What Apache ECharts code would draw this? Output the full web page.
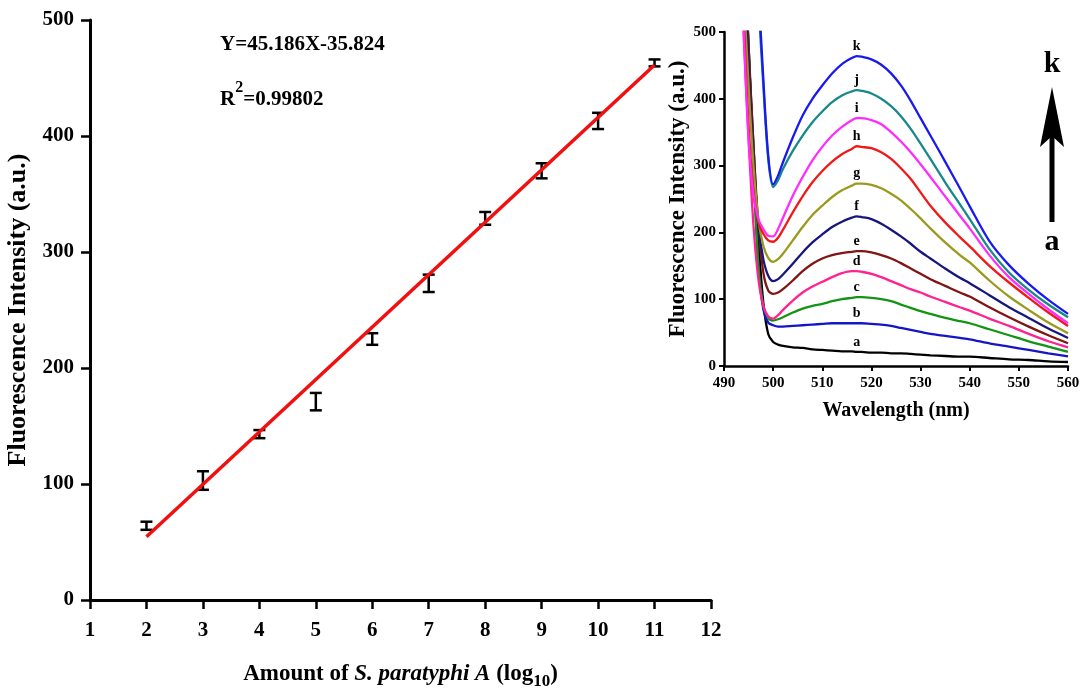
<!DOCTYPE html>
<html>
<head>
<meta charset="utf-8">
<script src="https://cdn.jsdelivr.net/npm/echarts@6/dist/echarts.min.js"></script>
<style>
  html, body { margin: 0; padding: 0; background: #fff; }
  #main { width: 1081px; height: 694px; }
</style>
</head>
<body>
<div id="main"></div>
<script>
// calibration plot: log10 amount vs intensity
const amounts = [2, 3, 4, 5, 6, 7, 8, 9, 10, 11];
const meanIntensity = [64, 103, 143, 171, 225, 273, 329, 370, 413, 463];
const errIntensity = [3.5, 8, 3.5, 7.5, 5, 7.5, 5.5, 6.5, 7, 3];
// fitted line Y=45.186X-35.824 end points
const fitLine = [[2, 54.55], [11, 461.22]];

// inset spectra
const wavelengths = [493, 494, 495, 496, 497, 498, 499, 500, 501, 502, 504, 506, 508, 510, 512, 514, 516, 517, 518, 520, 522, 524, 526, 528, 530, 532, 535, 538, 540, 544, 548, 552, 556, 560];
const curveNames = ['a', 'b', 'c', 'd', 'e', 'f', 'g', 'h', 'i', 'j', 'k'];
const curveColors = ['#000000', '#1515c8', '#149414', '#ff2290', '#821414', '#16167e', '#9a9a1e', '#f01818', '#ff2cff', '#17898a', '#1a1aee'];
const spectra = [
  [750, 620, 470, 330, 190, 95, 48, 36, 32, 30, 28, 27, 25, 24, 23, 22, 22, 21, 21, 20, 20, 19, 19, 18, 17, 16, 15, 14, 14, 12, 10, 9, 7, 6],
  [800, 650, 480, 300, 150, 85, 65, 61, 59, 59, 60, 61, 62, 63, 64, 64, 64, 64, 64, 63, 62, 60, 57, 54, 51, 48, 45, 42, 40, 34, 29, 24, 19, 14.5],
  [800, 650, 480, 300, 150, 90, 72, 68, 70, 73, 80, 86, 90, 93, 97, 100, 102, 103, 103, 102, 100, 97, 92, 87, 82, 78, 72, 67, 64, 55, 46, 37, 29, 21],
  [700, 500, 340, 210, 130, 90, 74, 71, 76, 84, 98, 110, 119, 126, 133, 139, 142, 142, 141, 138, 133, 127, 121, 115, 110, 104, 96, 88, 83, 71, 60, 48, 37, 28],
  [750, 620, 480, 330, 210, 140, 113, 108, 110, 115, 128, 142, 153, 161, 166, 169, 171, 172, 172, 170, 166, 161, 154, 146, 138, 130, 120, 110, 104, 88, 73, 59, 46, 34],
  [750, 600, 450, 310, 210, 160, 135, 127, 130, 137, 153, 170, 185, 197, 208, 216, 222, 224, 223, 220, 213, 204, 194, 183, 171, 161, 146, 132, 124, 106, 88, 72, 56, 42],
  [700, 560, 420, 300, 220, 180, 162, 156, 160, 168, 188, 208, 226, 240, 253, 263, 270, 273, 273, 271, 266, 258, 248, 235, 221, 206, 185, 166, 155, 128, 104, 84, 65, 49],
  [650, 520, 360, 260, 215, 198, 188, 186, 192, 204, 230, 254, 275, 292, 306, 317, 325, 329, 328, 326, 320, 310, 296, 280, 260, 240, 215, 193, 179, 150, 125, 102, 80, 60],
  [700, 500, 340, 255, 220, 205, 195, 194, 205, 222, 255, 283, 308, 328, 345, 358, 368, 371, 371, 368, 362, 350, 336, 320, 302, 283, 254, 225, 206, 166, 133, 108, 85, 64],
  [1100, 1000, 880, 750, 550, 420, 310, 268, 278, 295, 322, 345, 365, 381, 395, 405, 411, 413, 412, 408, 400, 389, 374, 355, 333, 310, 275, 242, 220, 175, 140, 114, 92, 73],
  [1100, 1000, 880, 760, 570, 430, 315, 272, 285, 305, 342, 375, 400, 420, 438, 452, 461, 464, 463, 459, 451, 438, 420, 397, 371, 345, 306, 266, 239, 187, 151, 123, 99, 78]
];
const labelAt = 517;

const FONT = 'Liberation Serif';

const chart = echarts.init(document.getElementById('main'));

const axisLabelMain = { color: '#000', fontFamily: FONT, fontWeight: 'bold', fontSize: 21 };
const axisLabelInset = { color: '#000', fontFamily: FONT, fontWeight: 'bold', fontSize: 15 };

const spectraSeries = spectra.map((vals, i) => ({
  type: 'line',
  xAxisIndex: 1,
  yAxisIndex: 1,
  symbol: 'circle',
  symbolSize: 0,
  showSymbol: true,
  smooth: 0.3,
  lineStyle: { color: curveColors[i], width: 2.3 },
  itemStyle: { color: curveColors[i] },
  z: 2 + i,
  data: wavelengths.map((w, j) => {
    if (w === labelAt) {
      return {
        value: [w, vals[j]],
        label: {
          show: true, position: 'top', distance: 3, formatter: curveNames[i],
          color: '#000', fontFamily: FONT, fontWeight: 'bold', fontSize: 14
        }
      };
    }
    return [w, vals[j]];
  })
}));

chart.setOption({
  animation: false,
  grid: [
    { left: 90, right: 370, top: 20, bottom: 94, outerBoundsMode: 'none' },
    { left: 724, right: 13, top: 32, bottom: 328, outerBoundsMode: 'none' }
  ],
  xAxis: [
    {
      gridIndex: 0, type: 'value', min: 1, max: 12, interval: 1,
      axisLine: { lineStyle: { color: '#000', width: 3 } },
      axisTick: { length: 9, lineStyle: { color: '#000', width: 2.5 } },
      splitLine: { show: false },
      axisLabel: Object.assign({ margin: 20 }, axisLabelMain),
      name: '{b|Amount of }{i|S. paratyphi A}{b| (log}{s|10}{b|)}',
      nameLocation: 'middle', nameGap: 58,
      nameTextStyle: {
        rich: {
          b: { fontFamily: FONT, fontWeight: 'bold', fontSize: 23, color: '#000', lineHeight: 32 },
          i: { fontFamily: FONT, fontWeight: 'bold', fontStyle: 'italic', fontSize: 23, color: '#000', lineHeight: 32 },
          s: { fontFamily: FONT, fontWeight: 'bold', fontSize: 17, color: '#000', lineHeight: 17, verticalAlign: 'bottom' }
        }
      }
    },
    {
      gridIndex: 1, type: 'value', min: 490, max: 560, interval: 10,
      axisLine: { lineStyle: { color: '#000', width: 2.5 } },
      axisTick: { length: 5, lineStyle: { color: '#000', width: 2 } },
      splitLine: { show: false },
      axisLabel: Object.assign({ margin: 10 }, axisLabelInset),
      name: 'Wavelength (nm)', nameLocation: 'middle', nameGap: 35,
      nameTextStyle: { fontFamily: FONT, fontWeight: 'bold', fontSize: 20, color: '#000' }
    }
  ],
  yAxis: [
    {
      gridIndex: 0, type: 'value', min: 0, max: 500, interval: 100,
      axisLine: { show: true, lineStyle: { color: '#000', width: 3 } },
      axisTick: { show: true, length: 9, lineStyle: { color: '#000', width: 2.5 } },
      splitLine: { show: false },
      axisLabel: Object.assign({ margin: 16 }, axisLabelMain),
      name: 'Fluorescence Intensity (a.u.)', nameLocation: 'middle', nameGap: 56,
      nameTextStyle: { fontFamily: FONT, fontWeight: 'bold', fontSize: 26, color: '#000' }
    },
    {
      gridIndex: 1, type: 'value', min: 0, max: 500, interval: 100,
      axisLine: { show: true, lineStyle: { color: '#000', width: 2.5 } },
      axisTick: { show: true, length: 5, lineStyle: { color: '#000', width: 2 } },
      splitLine: { show: false },
      axisLabel: Object.assign({ margin: 8 }, axisLabelInset),
      name: 'Fluorescence Intensity (a.u.)', nameLocation: 'middle', nameGap: 33,
      nameTextStyle: { fontFamily: FONT, fontWeight: 'bold', fontSize: 23, color: '#000' }
    }
  ],
  graphic: [
    {
      type: 'text', left: 220, top: 34,
      style: { text: 'Y=45.186X-35.824', fill: '#000', font: 'bold 21px "Liberation Serif"' }
    },
    {
      type: 'text', left: 220, top: 80,
      style: {
        text: '{t|R}{p|2}{t|=0.99802}',
        rich: {
          t: { fontFamily: FONT, fontWeight: 'bold', fontSize: 21, fill: '#000', lineHeight: 30, verticalAlign: 'bottom' },
          p: { fontFamily: FONT, fontWeight: 'bold', fontSize: 16, fill: '#000', lineHeight: 16, verticalAlign: 'top' }
        }
      }
    },
    {
      type: 'text', x: 1052, y: 64,
      style: { text: 'k', fill: '#000', font: 'bold 30px "Liberation Serif"', align: 'center', verticalAlign: 'middle' }
    },
    {
      type: 'text', x: 1052, y: 242,
      style: { text: 'a', fill: '#000', font: 'bold 30px "Liberation Serif"', align: 'center', verticalAlign: 'middle' }
    },
    {
      type: 'line',
      shape: { x1: 1052, y1: 222, x2: 1052, y2: 130 },
      style: { stroke: '#000', lineWidth: 5 }
    },
    {
      type: 'polygon',
      shape: { points: [[1052, 87], [1064, 147], [1052, 136], [1040, 147]] },
      style: { fill: '#000' }
    }
  ],
  series: [
    {
      type: 'line',
      xAxisIndex: 0, yAxisIndex: 0,
      data: fitLine,
      showSymbol: false,
      lineStyle: { color: '#f01010', width: 3.5 },
      z: 5
    },
    {
      type: 'custom',
      xAxisIndex: 0, yAxisIndex: 0,
      data: amounts.map((x, i) => [x, meanIntensity[i], errIntensity[i]]),
      z: 4,
      renderItem: function (params, api) {
        const x = api.value(0);
        const m = api.value(1);
        const e = api.value(2);
        const top = api.coord([x, m + e]);
        const bot = api.coord([x, m - e]);
        const hw = 6;
        const st = { stroke: '#000', lineWidth: 2.5 };
        return {
          type: 'group',
          children: [
            { type: 'line', shape: { x1: top[0], y1: top[1], x2: bot[0], y2: bot[1] }, style: st },
            { type: 'line', shape: { x1: top[0] - hw, y1: top[1], x2: top[0] + hw, y2: top[1] }, style: st },
            { type: 'line', shape: { x1: bot[0] - hw, y1: bot[1], x2: bot[0] + hw, y2: bot[1] }, style: st }
          ]
        };
      }
    }
  ].concat(spectraSeries)
});
</script>
</body>
</html>
